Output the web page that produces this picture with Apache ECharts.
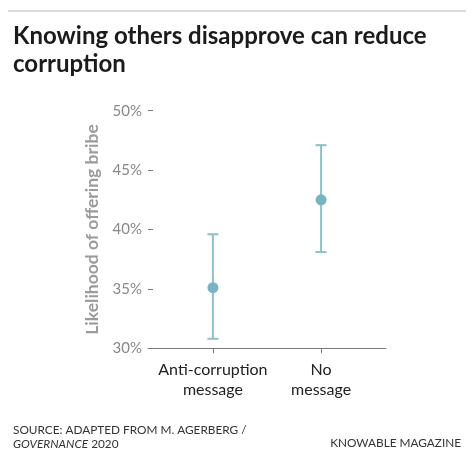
<!DOCTYPE html>
<html>
<head>
<meta charset="utf-8">
<script src="https://cdn.jsdelivr.net/npm/echarts@6/dist/echarts.min.js"></script>
<style>
html,body{margin:0;padding:0;background:#fff;}
#chart{width:474px;height:454px;}
</style>
</head>
<body>
<div id="chart"></div>
<script>
// Data
var categories = ['Anti-corruption\nmessage', 'No\nmessage'];
var categoryPositions = [1, 2];
var estimates = [35.1, 42.5];
var lowerBounds = [30.8, 38.1];
var upperBounds = [39.6, 47.1];
var yTicks = [30, 35, 40, 45, 50];

var pointData = categoryPositions.map(function (x, i) { return [x, estimates[i]]; });
var errData = categoryPositions.map(function (x, i) { return [x, lowerBounds[i], upperBounds[i]]; });

var chart = echarts.init(document.getElementById('chart'));
var FONT = 'Lato, "Open Sans", sans-serif';

chart.setOption({
  animation: false,
  backgroundColor: '#ffffff',
  graphic: [
    { type: 'rect', shape: { x: 8, y: 10, width: 458, height: 2 }, style: { fill: '#d8dddd' } }
  ],
  title: [
    {
      text: 'Knowing others disapprove can reduce\ncorruption',
      left: 8, top: 17,
      textStyle: { fontFamily: FONT, fontWeight: 'bold', fontSize: 24, lineHeight: 28, color: '#1b1b1b' }
    },
    {
      text: 'SOURCE: ADAPTED FROM M. AGERBERG /\n{i|GOVERNANCE} 2020',
      left: 8, top: 418,
      textStyle: {
        fontFamily: FONT, fontSize: 11.8, fontWeight: 'normal', lineHeight: 14, color: '#333',
        rich: { i: { fontFamily: FONT, fontSize: 11.8, fontWeight: 'normal', fontStyle: 'italic', color: '#333' } }
      }
    },
    {
      text: 'KNOWABLE MAGAZINE',
      right: 8, top: 432,
      textStyle: { fontFamily: FONT, fontSize: 11.8, fontWeight: 'normal', color: '#333' }
    }
  ],
  grid: { left: 148, right: 88, top: 110.7, bottom: 105.7 },
  xAxis: {
    type: 'value',
    min: 0.4, max: 2.6,
    splitLine: { show: false },
    axisLine: { show: true, lineStyle: { color: '#7a7a7a', width: 1 } },
    axisTick: { show: true, customValues: categoryPositions, length: 5, lineStyle: { color: '#7a7a7a' } },
    axisLabel: {
      customValues: categoryPositions,
      margin: 12,
      fontFamily: FONT, fontSize: 16, lineHeight: 20, color: '#222',
      formatter: function (v) {
        var idx = categoryPositions.indexOf(v);
        return idx >= 0 ? categories[idx] : '';
      }
    }
  },
  yAxis: {
    type: 'value',
    min: 30, max: 50, interval: 5,
    splitLine: { show: false },
    axisLine: { show: false },
    axisTick: { show: true, inside: true, length: 5, lineStyle: { color: '#7a7a7a' } },
    axisLabel: {
      margin: 6, fontFamily: FONT, fontSize: 15, color: '#888',
      formatter: '{value}%'
    },
    name: 'Likelihood of offering bribe',
    nameLocation: 'middle',
    nameGap: 46,
    nameTextStyle: { fontFamily: FONT, fontSize: 17.5, fontWeight: 'bold', color: '#9b9b9b' }
  },
  series: [
    {
      type: 'custom',
      data: errData,
      renderItem: function (params, api) {
        var x = api.value(0);
        var lo = api.coord([x, api.value(1)]);
        var hi = api.coord([x, api.value(2)]);
        var hw = 5.5;
        var style = { stroke: '#8ec0c6', lineWidth: 2 };
        return {
          type: 'group',
          children: [
            { type: 'line', shape: { x1: lo[0], y1: lo[1], x2: hi[0], y2: hi[1] }, style: style },
            { type: 'line', shape: { x1: lo[0] - hw, y1: lo[1], x2: lo[0] + hw, y2: lo[1] }, style: style },
            { type: 'line', shape: { x1: hi[0] - hw, y1: hi[1], x2: hi[0] + hw, y2: hi[1] }, style: style }
          ]
        };
      },
      z: 2
    },
    {
      type: 'scatter',
      data: pointData,
      symbol: 'circle',
      symbolSize: 11,
      itemStyle: { color: '#77b3c2', opacity: 1 },
      z: 3
    }
  ]
});
</script>
</body>
</html>
